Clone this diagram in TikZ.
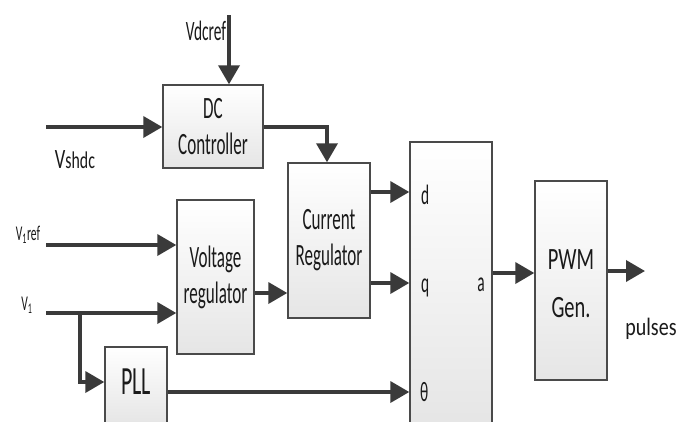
\documentclass[tikz,border=0pt]{standalone}
\usepackage{fontspec}
\setmainfont[FakeStretch=0.55]{Carlito}
\newfontfamily\widefont[FakeStretch=0.8]{Carlito}
\newfontfamily\midfont[FakeStretch=0.66]{Carlito}
\usetikzlibrary{arrows.meta}
\definecolor{ln}{HTML}{3A3A3A}
\definecolor{bx}{HTML}{4A4A4A}
\definecolor{tx}{HTML}{1A1A1A}
\begin{document}
\begin{tikzpicture}[x=1pt,y=-1pt,
  blk/.style={draw=bx,line width=1.4pt,top color=white,bottom color=black!10,
    inner sep=0pt,align=center,text=tx,font=\fontsize{31}{36}\selectfont},
  arr/.style={draw=ln,line width=3.6pt,-{Triangle[length=19pt,width=21pt]}},
  lbl/.style={text=tx,inner sep=0pt,font=\fontsize{28}{32}\selectfont},
  slbl/.style={text=tx,inner sep=0pt,font=\fontsize{21}{24}\selectfont}]
\useasboundingbox (0,0) rectangle (679,421);
\fill[white] (0,0) rectangle (679,421);
% blocks
\node[blk,minimum width=100pt,minimum height=83pt] (dc) at (213,126.5) {DC\\Controller};
\node[blk,minimum width=82pt,minimum height=155pt] (cur) at (329,240.5) {Current\\Regulator};
\node[blk,minimum width=77pt,minimum height=154pt] (volt) at (215.5,277) {Voltage\\regulator};
\node[blk,minimum width=62pt,minimum height=76pt] (pll) at (136,385) {};
\node[text=tx,inner sep=0pt,font=\fontsize{40}{44}\selectfont] (plltext) at (136,382) {PLL};
\node[blk,minimum width=82pt,minimum height=282pt] (big) at (451,283) {};
\node[blk,minimum width=72pt,minimum height=199pt] (pwm) at (571,280.5) {};
\node[text=tx,inner sep=0pt,align=center,font=\fontsize{31}{48}\midfont\selectfont] (pwmtext) at (571,284) {PWM\\Gen.};
% coordinates
\coordinate (vdctop) at (229,15);
\coordinate (vsh) at (46,127);
\coordinate (v1r) at (46,245);
\coordinate (v1) at (46,313);
\coordinate (br) at (80,313);
\coordinate (pout) at (645,271);
% connectors
\draw[arr] (vdctop) -- (vdctop |- dc.north);
\draw[arr] (vsh) -- (dc.west |- vsh);
\draw[arr] (dc.east |- 0,127) -- (327,127) -- (327,0 |- cur.north);
\draw[arr] (v1r) -- (volt.west |- v1r);
\draw[arr] (v1) -- (volt.west |- v1);
\draw[arr] (br) -- (80,382) -- (pll.west |- 0,382);
\draw[arr] (volt.east |- 0,293) -- (cur.west |- 0,293);
\draw[arr] (cur.east |- 0,192) -- (big.west |- 0,192);
\draw[arr] (cur.east |- 0,283) -- (big.west |- 0,283);
\draw[arr] (pll.east |- 0,392) -- (big.west |- 0,392);
\draw[arr] (big.east |- 0,273) -- (pwm.west |- 0,273);
\draw[arr] (pwm.east |- pout) -- (pout);
% labels
\node[lbl,anchor=base] (lvdc) at (206,40) {Vdcref};
\node[text=tx,inner sep=0pt,anchor=base] (lvsh) at (75,168) {\midfont{\fontsize{28}{30}\selectfont V}{\fontsize{24}{26}\selectfont shdc}};
\node[slbl,anchor=base] (lv1r) at (28,240) {V\textsubscript{1}ref};
\node[slbl,anchor=base] (lv1) at (27,310) {V\textsubscript{1}};
\node[lbl,anchor=base west] (ld) at (421,204) {d};
\node[lbl,anchor=base west] (lq) at (421,292) {q};
\node[lbl,anchor=base west] (lth) at (420,401) {θ};
\node[lbl,anchor=base] (la) at (481,291) {a};
\node[text=tx,inner sep=0pt,anchor=base,font=\fontsize{25}{28}\widefont\selectfont] (lp) at (651,335) {pulses};
\end{tikzpicture}
\end{document}
